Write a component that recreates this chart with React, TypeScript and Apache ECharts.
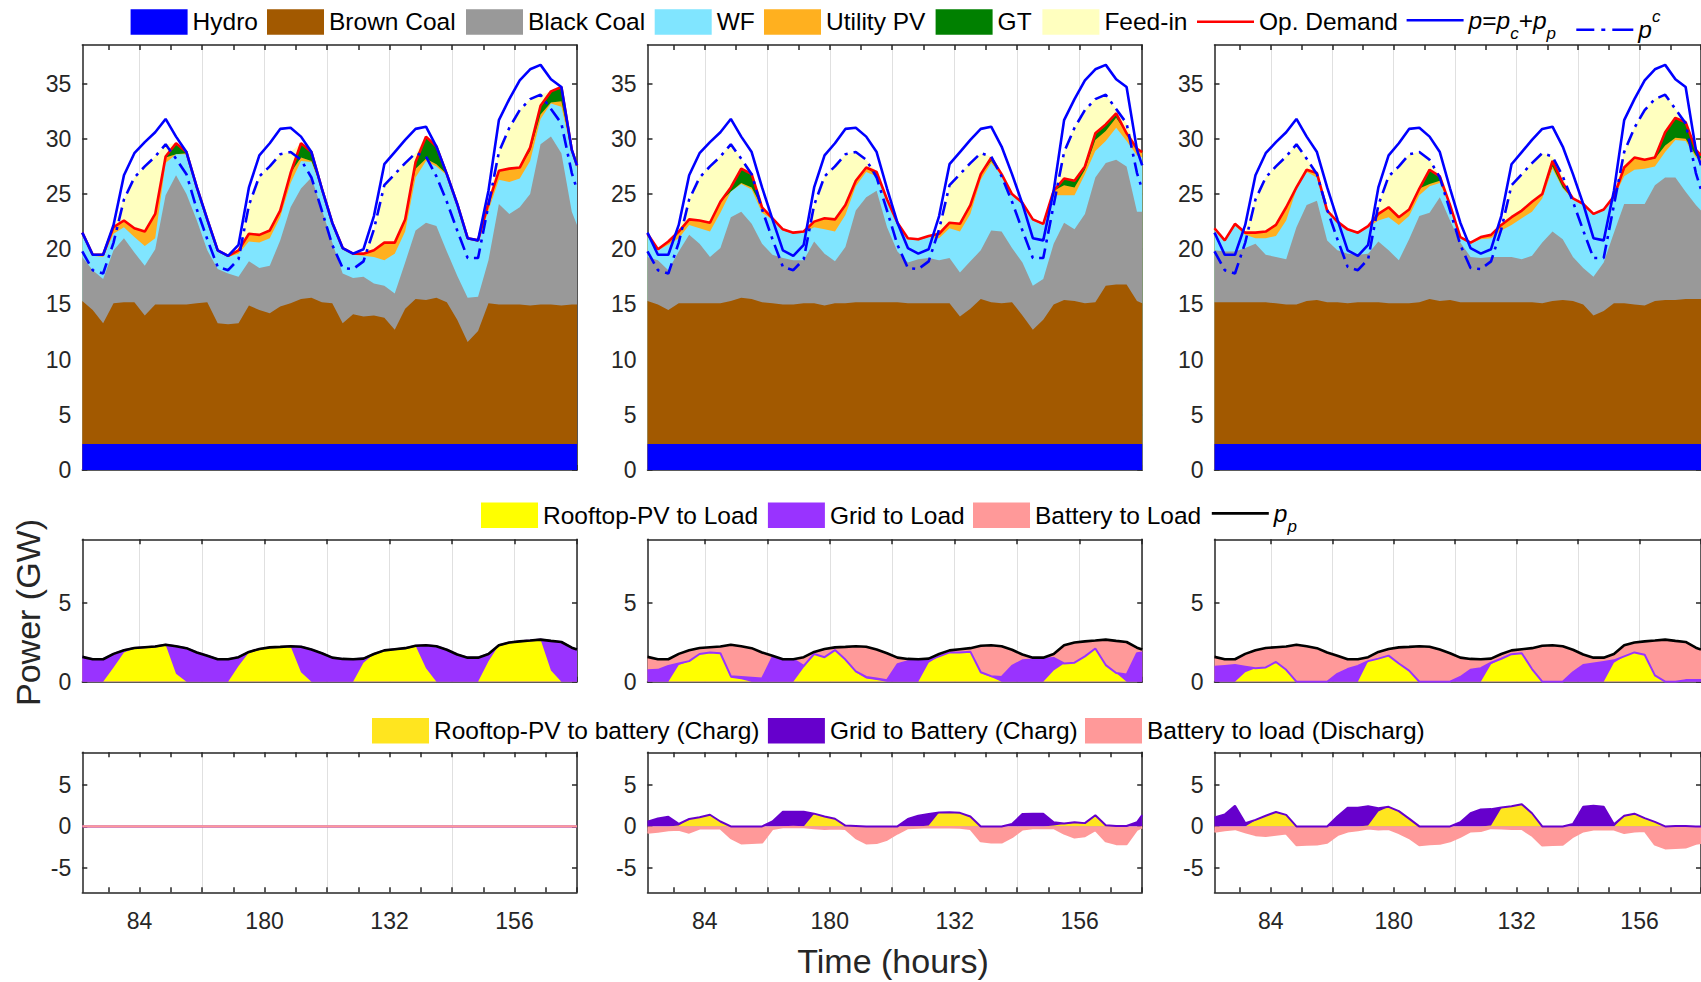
import React, { useEffect, useRef } from "react";
import * as echarts from "echarts";

// ---------------- data ----------------
const HOURS = [
  73, 75, 77, 79, 81, 83, 85, 87, 89, 91,
  93, 95, 97, 99, 101, 103, 105, 107, 109, 111,
  113, 115, 117, 119, 121, 123, 125, 127, 129, 131,
  133, 135, 137, 139, 141, 143, 145, 147, 149, 151,
  153, 155, 157, 159, 161, 163, 165, 167, 168,
];
const HOUR_CATEGORIES = Array.from({ length: 96 }, (_, i) => String(73 + i));
const X_LABEL_HOURS = ["84", "108", "132", "156"];
const X_LABEL_TEXT: Record<string, string> = { "84": "84", "108": "180", "132": "132", "156": "156" };

const HYDRO = [
  2.35, 2.35, 2.35, 2.35, 2.35, 2.35, 2.35, 2.35, 2.35, 2.35,
  2.35, 2.35, 2.35, 2.35, 2.35, 2.35, 2.35, 2.35, 2.35, 2.35,
  2.35, 2.35, 2.35, 2.35, 2.35, 2.35, 2.35, 2.35, 2.35, 2.35,
  2.35, 2.35, 2.35, 2.35, 2.35, 2.35, 2.35, 2.35, 2.35, 2.35,
  2.35, 2.35, 2.35, 2.35, 2.35, 2.35, 2.35, 2.35, 2.35,
];

// total demand p = pc + pp (solid blue) and consumer demand pc (dash-dot)
const P_TOTAL = [
  21.5, 19.5, 19.5, 22.2, 26.7, 28.7, 29.7, 30.6, 31.8, 30.2,
  28.8, 25.6, 22.7, 19.9, 19.4, 20.4, 25.6, 28.5, 29.6, 30.9,
  31.0, 30.2, 28.8, 25.5, 22.4, 20.1, 19.6, 20.0, 23.0, 27.7,
  28.8, 29.9, 30.9, 31.1, 29.3, 26.8, 24.1, 21.0, 20.8, 25.3,
  31.7, 33.6, 35.3, 36.3, 36.7, 35.4, 34.7, 29.0, 27.6,
];
const P_CONS = [
  19.8, 18.1, 17.8, 20.6, 24.5, 26.5, 27.5, 28.4, 29.5, 28.2,
  26.8, 23.6, 20.9, 18.4, 18.1, 19.1, 24.0, 26.6, 27.5, 28.6,
  28.8, 28.1, 26.5, 23.5, 20.4, 18.3, 18.2, 18.9, 21.8, 25.8,
  26.8, 27.8, 28.7, 28.4, 26.6, 24.3, 21.7, 19.2, 19.2, 24.0,
  28.8, 31.0, 32.6, 33.6, 34.0, 32.7, 31.4, 26.9, 25.4,
];
const P_PROS = [
  1.57, 1.42, 1.42, 1.76, 1.99, 2.13, 2.18, 2.22, 2.34, 2.24,
  2.12, 1.85, 1.64, 1.42, 1.42, 1.55, 1.88, 2.07, 2.17, 2.20,
  2.24, 2.21, 2.03, 1.80, 1.52, 1.44, 1.42, 1.46, 1.75, 1.98,
  2.05, 2.12, 2.27, 2.30, 2.24, 2.02, 1.72, 1.52, 1.52, 1.75,
  2.30, 2.48, 2.55, 2.60, 2.66, 2.58, 2.51, 2.15, 2.03,
];

// ---- panel 1 (no battery): cumulative tops of the generation stack ----
const BROWN_TOP_1 = [
  15.3, 14.5, 13.3, 15.1, 15.2, 15.2, 14.0, 15.0, 15.0, 15.0,
  15.0, 15.1, 15.2, 13.3, 13.2, 13.3, 14.9, 14.5, 14.2, 14.8,
  15.1, 15.5, 15.6, 15.2, 15.1, 13.3, 14.1, 13.9, 14.0, 13.8,
  12.7, 14.6, 15.5, 15.4, 15.6, 15.2, 13.6, 11.6, 12.6, 15.1,
  15.0, 15.0, 15.0, 14.9, 15.0, 15.0, 14.9, 15.0, 15.0,
];
const BLACK_TOP_1 = [
  19.3, 18.1, 17.3, 19.9, 21.0, 19.7, 18.5, 20.0, 24.9, 26.7,
  25.0, 22.6, 19.9, 18.2, 17.8, 17.5, 18.9, 18.3, 18.5, 20.8,
  23.8, 25.5, 26.5, 23.6, 20.6, 17.8, 17.4, 17.5, 16.9, 16.7,
  16.0, 18.8, 21.7, 22.4, 22.1, 19.8, 17.6, 15.6, 15.7, 19.0,
  24.1, 23.2, 23.8, 25.0, 29.5, 30.2, 28.7, 23.4, 22.2,
];
const WF_TOP_1 = [
  21.3, 19.4, 19.3, 21.4, 22.0, 21.1, 20.3, 21.0, 27.8, 28.6,
  28.6, 25.5, 22.6, 19.8, 19.3, 19.6, 20.7, 20.6, 21.0, 22.9,
  26.0, 28.0, 27.9, 25.4, 22.3, 20.0, 19.5, 19.4, 19.3, 19.0,
  19.6, 21.6, 26.5, 28.0, 27.5, 26.7, 24.0, 20.9, 20.7, 23.5,
  26.3, 26.1, 26.4, 28.0, 31.8, 33.2, 32.9, 28.8, 27.4,
];
const GT_1 = [
  0, 0, 0, 0, 0, 0, 0, 0, 0.1, 1.0,
  0.1, 0, 0, 0, 0, 0, 0, 0, 0, 0,
  0, 1.3, 0.8, 0, 0, 0, 0, 0, 0, 0,
  0, 0, 0.6, 2.0, 1.6, 0, 0, 0, 0, 0,
  0, 0, 0, 0.3, 0.8, 1.0, 1.3, 0, 0,
];
const DEMAND_1 = [
  21.5, 19.5, 19.5, 22.0, 22.6, 21.9, 21.6, 23.2, 28.4, 29.6,
  28.8, 25.6, 22.7, 19.9, 19.4, 19.9, 21.4, 21.3, 21.7, 23.5,
  26.9, 29.6, 28.8, 25.5, 22.4, 20.1, 19.6, 19.6, 19.9, 20.6,
  20.6, 22.7, 27.9, 30.2, 29.3, 26.8, 24.1, 21.0, 20.8, 24.2,
  27.1, 27.3, 27.4, 29.2, 33.0, 34.3, 34.7, 29.0, 27.6,
];

// ---- panel 2 ----
const BROWN_TOP_2 = [
  15.3, 15.0, 14.5, 15.1, 15.1, 15.1, 15.1, 15.1, 15.3, 15.6,
  15.5, 15.2, 15.1, 15.0, 15.0, 15.1, 15.1, 14.9, 15.1, 15.1,
  15.2, 15.2, 15.2, 15.2, 15.2, 15.1, 15.1, 15.1, 15.1, 15.1,
  13.9, 14.6, 15.5, 15.2, 15.1, 15.2, 14.0, 12.7, 13.6, 15.0,
  15.4, 15.3, 15.1, 15.2, 16.7, 16.8, 16.8, 15.3, 15.1,
];
const BLACK_TOP_2 = [
  19.3, 19.0, 18.1, 19.8, 21.3, 20.5, 19.3, 20.1, 22.9, 23.4,
  22.3, 20.5, 19.5, 19.2, 19.0, 19.0, 20.7, 19.6, 18.9, 20.2,
  23.5, 24.7, 25.3, 22.0, 19.8, 18.8, 19.1, 19.2, 19.0, 19.2,
  17.9, 18.9, 19.9, 21.7, 21.6, 20.1, 18.8, 16.7, 17.3, 20.5,
  22.4, 21.8, 23.2, 26.5, 27.8, 28.1, 27.5, 23.4, 23.4,
];
const WF_TOP_2 = [
  21.2, 19.9, 20.4, 21.0, 22.2, 21.9, 21.6, 23.3, 25.2, 25.9,
  25.4, 23.3, 22.7, 21.7, 21.4, 21.5, 22.0, 21.8, 21.6, 23.1,
  25.7, 27.0, 26.6, 24.4, 22.3, 20.9, 20.8, 21.1, 21.0, 21.9,
  21.6, 23.2, 26.3, 27.8, 26.7, 24.9, 24.1, 22.6, 22.2, 24.9,
  24.9, 24.9, 26.8, 28.9, 29.8, 31.0, 29.8, 28.5, 28.3,
];
const GT_2 = [
  0, 0, 0, 0, 0, 0, 0, 0, 0.4, 1.3,
  1.2, 0, 0, 0, 0, 0, 0, 0, 0, 0,
  0, 0, 0.3, 0, 0, 0, 0, 0, 0, 0,
  0, 0, 0, 0.3, 0, 0, 0, 0, 0, 0,
  0.6, 0.6, 0.3, 0.6, 0.6, 0.4, 0, 0, 0,
];
const DEMAND_2 = [
  21.4, 20.0, 20.7, 21.6, 22.7, 22.6, 22.4, 24.3, 25.6, 27.3,
  26.8, 23.8, 22.8, 21.8, 21.5, 21.6, 22.5, 22.8, 22.7, 24.0,
  26.2, 27.4, 27.0, 24.5, 22.4, 21.0, 20.9, 21.2, 21.4, 22.4,
  22.3, 24.0, 26.8, 28.3, 26.8, 25.0, 24.2, 22.7, 22.3, 25.3,
  26.4, 26.2, 27.5, 30.5, 31.3, 32.3, 30.5, 29.1, 28.8,
];

// ---- panel 3 ----
const BROWN_TOP_3 = [
  15.2, 15.2, 15.2, 15.2, 15.2, 15.2, 15.1, 15.0, 15.0, 15.3,
  15.4, 15.2, 15.2, 15.1, 15.2, 15.2, 15.2, 15.1, 15.1, 15.1,
  15.2, 15.5, 15.3, 15.4, 15.2, 15.2, 15.2, 15.2, 15.2, 15.2,
  15.2, 15.2, 15.1, 15.3, 15.4, 15.3, 15.0, 14.0, 14.4, 15.1,
  15.1, 15.0, 14.9, 15.3, 15.4, 15.4, 15.5, 15.5, 15.5,
];
const BLACK_TOP_3 = [
  19.9, 19.8, 19.8, 20.1, 20.5, 19.5, 19.3, 19.1, 22.0, 24.0,
  24.4, 20.8, 19.9, 19.6, 19.5, 19.6, 20.7, 19.9, 19.0, 20.9,
  23.0, 23.3, 24.7, 22.6, 20.6, 19.3, 19.2, 19.3, 19.3, 19.3,
  19.1, 19.4, 20.6, 21.6, 20.9, 19.3, 18.3, 17.5, 18.8, 21.5,
  24.1, 24.1, 24.1, 25.8, 26.5, 26.5, 25.2, 24.0, 23.5,
];
const WF_TOP_3 = [
  21.8, 20.7, 22.1, 21.3, 21.0, 21.0, 21.2, 22.6, 25.4, 27.0,
  26.5, 23.4, 22.4, 21.7, 21.4, 22.0, 22.6, 22.9, 22.2, 23.0,
  24.9, 25.7, 26.0, 23.9, 21.0, 20.5, 20.9, 21.0, 21.7, 22.2,
  22.8, 23.4, 24.6, 27.3, 25.5, 24.5, 24.0, 23.1, 23.5, 24.7,
  26.6, 27.2, 27.3, 27.5, 28.8, 29.9, 29.8, 28.3, 28.0,
];
const GT_3 = [
  0, 0, 0, 0, 0, 0, 0, 0, 0, 0,
  0, 0, 0, 0, 0, 0, 0, 0, 0, 0,
  0, 1.3, 0.4, 0, 0, 0, 0, 0, 0, 0,
  0, 0, 0, 0.5, 0.4, 0, 0, 0, 0, 0,
  0, 0, 0, 0.1, 1.2, 1.8, 1.5, 0.5, 0.3,
];
const DEMAND_3 = [
  21.9, 20.8, 22.3, 21.5, 21.5, 21.6, 22.2, 23.8, 25.6, 27.2,
  26.9, 23.5, 22.5, 21.8, 21.5, 22.1, 23.2, 23.8, 22.9, 23.6,
  25.5, 27.2, 26.6, 24.0, 21.1, 20.6, 21.1, 21.3, 22.2, 22.9,
  23.5, 24.3, 25.0, 28.0, 26.0, 24.6, 24.1, 23.2, 23.6, 24.8,
  27.4, 28.3, 28.1, 28.3, 30.6, 31.9, 31.5, 29.0, 28.5,
];

// ---- prosumer load supply (middle row) ----
const PV_TO_LOAD_1 = [
  0, 0, 0, 0.9, 1.85, 2.10, 2.18, 2.22, 2.34, 0.5,
  0, 0, 0, 0, 0, 1.0, 1.85, 2.05, 2.15, 2.2,
  2.24, 0.6, 0, 0, 0, 0, 0, 1.2, 1.75, 1.98,
  2.05, 2.12, 2.27, 0.85, 0, 0, 0, 0, 0, 1.3,
  2.30, 2.48, 2.55, 2.60, 2.66, 0.7, 0, 0, 0,
];
const PV_TO_LOAD_2 = [
  0, 0, 0, 1.05, 1.3, 1.75, 1.85, 1.8, 0.25, 0.15,
  0, 0, 0, 0, 0, 0.9, 1.75, 1.55, 2.0, 1.4,
  0.6, 0.2, 0.1, 0, 0, 0, 0, 1.2, 1.6, 1.85,
  1.85, 1.9, 0.55, 0.3, 0, 0, 0, 0, 0, 0.7,
  1.15, 1.2, 1.6, 2.1, 1.05, 0.55, 0, 0, 0,
];
const PV_TO_LOAD_3 = [
  0, 0, 0, 0.6, 0.85, 0.9, 1.25, 0.75, 0, 0,
  0, 0, 0, 0, 0, 1.3, 1.46, 1.65, 1.15, 0.7,
  0, 0, 0, 0, 0, 0, 0, 1.1, 1.45, 1.74,
  1.8, 0.8, 0, 0, 0, 0, 0, 0, 0, 1.2,
  1.6, 1.85, 1.7, 0.4, 0, 0, 0, 0, 0,
];
// top of the "Grid to Load" layer (rooftop PV + grid)
const GRID_LOAD_TOP_2 = [
  0.73, 0.75, 1.0, 1.15, 1.3, 1.75, 1.85, 1.8, 0.35, 0.3,
  0.25, 0.2, 1.55, 1.42, 1.42, 1.0, 1.75, 1.55, 2.0, 1.4,
  0.65, 0.3, 0.2, 0.1, 1.1, 1.3, 1.35, 1.4, 1.6, 1.85,
  1.85, 1.9, 0.6, 0.35, 0.3, 1.0, 1.35, 1.4, 1.45, 1.5,
  1.15, 1.2, 1.6, 2.1, 1.05, 0.55, 0.45, 1.8, 1.85,
];
const GRID_LOAD_TOP_3 = [
  0.95, 1.0, 1.05, 0.95, 0.85, 0.9, 1.25, 0.75, 0, 0,
  0, 0, 0.5, 0.8, 1.0, 1.3, 1.46, 1.65, 1.15, 0.7,
  0, 0, 0, 0, 0.3, 0.75, 0.85, 1.2, 1.45, 1.74,
  1.8, 0.8, 0, 0, 0, 0.6, 1.05, 1.15, 1.25, 1.35,
  1.6, 1.85, 1.7, 0.4, 0, 0, 0.1, 0.1, 0.1,
];

// ---- battery (bottom row) ----
const NO_BATTERY = [
  0, 0, 0, 0, 0, 0, 0, 0, 0, 0,
  0, 0, 0, 0, 0, 0, 0, 0, 0, 0,
  0, 0, 0, 0, 0, 0, 0, 0, 0, 0,
  0, 0, 0, 0, 0, 0, 0, 0, 0, 0,
  0, 0, 0, 0, 0, 0, 0, 0, 0,
];
const PV_TO_BATT_2 = [
  0, 0, 0, 0.1, 0.9, 1.12, 1.42, 0.6, 0, 0,
  0, 0, 0, 0, 0, 0, 1.55, 1.2, 0.93, 0.1,
  0, 0, 0, 0, 0, 0, 0, 0.1, 1.69, 1.73,
  1.65, 1.2, 0, 0, 0, 0, 0, 0, 0, 0.1,
  0.3, 0.4, 0.35, 1.3, 0.1, 0, 0, 0, 0,
];
const CHARGE_TOTAL_2 = [
  0.56, 0.97, 1.17, 0.3, 0.9, 1.12, 1.42, 0.6, 0, 0,
  0, 0, 0.6, 1.77, 1.77, 1.77, 1.55, 1.2, 0.93, 0.1,
  0.05, 0, 0, 0, 0, 0.9, 1.3, 1.5, 1.69, 1.73,
  1.65, 1.2, 0, 0, 0, 0.3, 1.5, 1.53, 1.53, 0.5,
  0.36, 0.5, 0.4, 1.35, 0.15, 0.05, 0.05, 0.5, 1.37,
];
const DISCHARGE_2 = [
  -0.77, -0.65, -0.45, -0.4, -0.75, -0.25, -0.24, -0.24, -1.4, -2.05,
  -2.0, -1.95, -0.3, -0.1, -0.05, -0.1, -0.2, -0.3, -0.25, -0.3,
  -1.4, -2.06, -2.0, -1.6, -0.85, -0.2, -0.15, -0.1, -0.12, -0.12,
  -0.15, -0.3, -1.8, -1.95, -1.95, -1.3, -0.35, -0.2, -0.2, -0.2,
  -0.85, -1.35, -1.17, -0.44, -1.8, -2.14, -2.14, -0.4, -0.1,
];
const PV_TO_BATT_3 = [
  0, 0, 0, 0, 0.75, 1.3, 1.75, 1.4, 0, 0,
  0, 0, 0, 0, 0, 0.1, 1.8, 2.38, 1.85, 0.95,
  0, 0, 0, 0, 0, 0, 0, 0.1, 2.2, 2.45,
  2.7, 1.6, 0, 0, 0, 0, 0, 0, 0, 0,
  1.2, 1.55, 1.0, 0.55, 0, 0, 0, 0, 0,
];
const CHARGE_TOTAL_3 = [
  1.09, 1.45, 2.5, 0.4, 0.8, 1.3, 1.75, 1.4, 0, 0,
  0, 0, 1.2, 2.26, 2.28, 2.46, 2.2, 2.38, 1.85, 0.95,
  0, 0, 0, 0, 0.5, 1.6, 2.06, 2.1, 2.3, 2.45,
  2.7, 1.6, 0, 0, 0, 0.3, 2.4, 2.5, 2.4, 0.25,
  1.3, 1.55, 1.0, 0.55, 0, 0.05, 0.05, 0, 0,
];
const DISCHARGE_3 = [
  -0.65, -0.44, -0.32, -0.7, -1.05, -1.15, -1.0, -0.85, -2.26, -2.22,
  -2.18, -1.98, -1.05, -0.6, -0.45, -0.25, -0.35, -0.3, -0.8, -1.4,
  -2.26, -2.15, -2.1, -1.8, -1.25, -0.6, -0.55, -0.2, -0.25, -0.3,
  -0.3, -1.1, -2.3, -2.25, -2.22, -1.25, -0.6, -0.36, -0.36, -0.36,
  -0.8, -0.6, -0.55, -2.2, -2.66, -2.6, -2.55, -2.1, -2.0,
];

// ---------------- styling ----------------
const FONT = '"Liberation Sans", Arial, Helvetica, sans-serif';
const AX = "#262626";
const GRIDC = "#e0e0e0";

const C = {
  hydro: "#0000ff",
  brown: "#a25900",
  black: "#999999",
  wf: "#80e5ff",
  upv: "#ffb01f",
  gt: "#008000",
  feed: "#ffffbf",
  demand: "#ff0000",
  p: "#0000ff",
  pvLoad: "#ffff00",
  gridLoad: "#9933ff",
  battLoad: "#ff9999",
  pvBatt: "#ffe51f",
  gridBatt: "#6600cc",
  discharge: "#ff9999",
};

const COL_LEFT = [82.3, 647.5, 1214.5];
const COL_W = 494.7;
const ROWS = [
  { top: 45, height: 425, min: 0, max: 38.5, tickStep: 6, gridStep: 12, labels: false, yTicks: [0, 5, 10, 15, 20, 25, 30, 35] },
  { top: 539.3, height: 142.4, min: 0, max: 9, tickStep: 12, gridStep: 12, labels: false, yTicks: [0, 5] },
  { top: 752.3, height: 140, min: -8, max: 9, tickStep: 6, gridStep: 24, labels: true, yTicks: [-5, 0, 5] },
];

const pairs = (vals: number[]) => HOURS.map((h, i) => [h, vals[i]]);

function catAxis(g: number, position: string, row: any, main: boolean) {
  return {
    type: "category",
    gridIndex: g,
    position,
    data: HOUR_CATEGORIES,
    boundaryGap: false,
    axisLine: { show: true, onZero: false, lineStyle: { color: AX, width: 1.5 } },
    axisTick: {
      show: true,
      inside: true,
      length: 5,
      interval: (i: number) => (73 + i) % row.tickStep === 0,
      lineStyle: { color: AX, width: 1.5 },
    },
    axisLabel: {
      show: main && row.labels,
      interval: (_i: number, v: string) => X_LABEL_HOURS.includes(v),
      formatter: (v: string) => X_LABEL_TEXT[v] ?? v,
      fontSize: 23,
      color: AX,
      fontFamily: FONT,
      margin: 17,
    },
    splitLine: {
      show: main,
      interval: (i: number) => (73 + i) % row.gridStep === 0,
      lineStyle: { color: GRIDC, width: 1 },
    },
  };
}

function valAxis(g: number, position: string, row: any, main: boolean) {
  return {
    type: "value",
    gridIndex: g,
    position,
    min: row.min,
    max: row.max,
    axisLine: { show: true, onZero: false, lineStyle: { color: AX, width: 1.5 } },
    axisTick: { show: true, inside: true, length: 5, customValues: row.yTicks, lineStyle: { color: AX, width: 1.5 } },
    axisLabel: {
      show: main,
      customValues: row.yTicks,
      formatter: (v: number) => (v % 5 === 0 ? String(v) : ""),
      fontSize: 23,
      color: AX,
      fontFamily: FONT,
      margin: 11,
    },
    splitLine: { show: false },
  };
}

// filled area from 0 to the given (cumulative) boundary
function area(name: string, color: string, g: number, vals: number[], line?: any) {
  return {
    type: "line",
    name,
    xAxisIndex: 3 * g,
    yAxisIndex: 2 * g,
    data: pairs(vals),
    symbol: "none",
    showSymbol: false,
    color,
    itemStyle: { color },
    lineStyle: line ?? { width: 0, color },
    areaStyle: { color, opacity: 1 },
    silent: true,
    emphasis: { disabled: true },
  };
}

function lineSeries(name: string, color: string, g: number, vals: number[], width: number, type?: any) {
  return {
    type: "line",
    name,
    xAxisIndex: 3 * g,
    yAxisIndex: 2 * g,
    data: pairs(vals),
    symbol: "none",
    showSymbol: false,
    color,
    itemStyle: { color },
    lineStyle: { color, width, type: type ?? "solid" },
    silent: true,
    emphasis: { disabled: true },
  };
}

const RICH = {
  i: { fontStyle: "italic", fontSize: 24.5, fontFamily: FONT, lineHeight: 44, verticalAlign: "middle", color: "#000" },
  n: { fontSize: 24.5, fontFamily: FONT, lineHeight: 44, verticalAlign: "middle", color: "#000" },
  sb: { fontStyle: "italic", fontSize: 17, fontFamily: FONT, lineHeight: 18, verticalAlign: "bottom", color: "#000" },
  sp: { fontStyle: "italic", fontSize: 17, fontFamily: FONT, lineHeight: 32, verticalAlign: "top", color: "#000" },
};
const RICH_LABEL: Record<string, string> = {
  p: "{i|p}{n|=}{i|p}{sb|c}{n|+}{i|p}{sb|p}",
  pc: "{i|p}{sp|c}",
  pp: "{i|p}{sb|p}",
};
const SOLID_ICON = "path://M0,0h57v2.6h-57z";
const DASHDOT_ICON = "path://M0,0h18v2.6h-18zM25,0h4v2.6h-4zM36,0h21v2.6h-21z";

function legendItem(name: string, left: number, top: number, icon: string) {
  const rich = RICH_LABEL[name];
  return {
    show: true,
    left,
    top: rich ? top - 1.5 : top,
    padding: 0,
    itemGap: 0,
    itemWidth: 57,
    itemHeight: 25.5,
    selectedMode: false,
    data: [{ name, icon }],
    itemStyle: { borderWidth: 0 },
    textStyle: { fontSize: 24.5, fontFamily: FONT, color: "#000", rich: RICH },
    formatter: (n: string) => RICH_LABEL[n] ?? n,
  };
}

const maxOf = (a: number[], b: number[]) => a.map((v, i) => Math.max(v, b[i]));

function buildOption() {
  const grid: any[] = [];
  const xAxis: any[] = [];
  const yAxis: any[] = [];
  ROWS.forEach((row, r) => {
    COL_LEFT.forEach((left, c) => {
      const g = r * 3 + c;
      grid.push({ left, top: row.top, width: COL_W, height: row.height, containLabel: false });
      xAxis.push({ type: "value", gridIndex: g, min: 73, max: 168, show: false });
      xAxis.push(catAxis(g, "bottom", row, true));
      xAxis.push(catAxis(g, "top", row, false));
      yAxis.push(valAxis(g, "left", row, true));
      yAxis.push(valAxis(g, "right", row, false));
    });
  });

  const series: any[] = [];

  // ---- top row: generation mix (layer boundaries, drawn from the top layer down) ----
  const tops = [
    [BROWN_TOP_1, BLACK_TOP_1, WF_TOP_1, GT_1, DEMAND_1],
    [BROWN_TOP_2, BLACK_TOP_2, WF_TOP_2, GT_2, DEMAND_2],
    [BROWN_TOP_3, BLACK_TOP_3, WF_TOP_3, GT_3, DEMAND_3],
  ];
  tops.forEach(([brown, black, wf, gt, demand], k) => {
    const g = k;
    const blackT = maxOf(black, brown);
    const wfT = maxOf(wf, blackT);
    const pvT = maxOf(wfT, demand.map((d, i) => d - gt[i]));
    const gtT = maxOf(pvT, demand);
    const feedT = maxOf(gtT, P_CONS);
    series.push(area("Feed-in", C.feed, g, feedT));
    series.push(area("GT", C.gt, g, gtT));
    series.push(area("Utility PV", C.upv, g, pvT));
    series.push(area("WF", C.wf, g, wfT));
    series.push(area("Black Coal", C.black, g, blackT));
    series.push(area("Brown Coal", C.brown, g, brown));
    series.push(area("Hydro", C.hydro, g, HYDRO));
    series.push(lineSeries("Op. Demand", C.demand, g, demand, 2.6));
    series.push(lineSeries("p", C.p, g, P_TOTAL, 2.6));
    series.push(lineSeries("pc", C.p, g, P_CONS, 2.6, [14, 6, 3, 6]));
  });

  // ---- middle row: how prosumer load is supplied ----
  const middle = [
    [PV_TO_LOAD_1, P_PROS],
    [PV_TO_LOAD_2, GRID_LOAD_TOP_2],
    [PV_TO_LOAD_3, GRID_LOAD_TOP_3],
  ];
  middle.forEach(([pv, gridTop], k) => {
    const g = 3 + k;
    const gridT = maxOf(gridTop, pv);
    series.push(area("Battery to Load", C.battLoad, g, P_PROS));
    series.push(area("Grid to Load", C.gridLoad, g, gridT, { width: 2, color: C.gridLoad }));
    series.push(area("Rooftop-PV to Load", C.pvLoad, g, pv));
    series.push(lineSeries("pp", "#000000", g, P_PROS, 2.6));
  });

  // ---- bottom row: battery charging / discharging ----
  const bottom = [
    [NO_BATTERY, NO_BATTERY, NO_BATTERY],
    [PV_TO_BATT_2, CHARGE_TOTAL_2, DISCHARGE_2],
    [PV_TO_BATT_3, CHARGE_TOTAL_3, DISCHARGE_3],
  ];
  bottom.forEach(([pv, total, dis], k) => {
    const g = 6 + k;
    const totT = maxOf(total, pv);
    series.push(area("Grid to Battery (Charg)", C.gridBatt, g, totT, { width: 2, color: C.gridBatt }));
    series.push(area("Rooftop-PV to battery (Charg)", C.pvBatt, g, pv));
    series.push(area("Battery to load (Discharg)", C.discharge, g, dis, { width: 2.2, color: C.discharge }));
  });

  const legend = [
    legendItem("Hydro", 130.6, 9.2, "rect"),
    legendItem("Brown Coal", 267, 9.2, "rect"),
    legendItem("Black Coal", 466, 9.2, "rect"),
    legendItem("WF", 654.7, 9.2, "rect"),
    legendItem("Utility PV", 764, 9.2, "rect"),
    legendItem("GT", 935.6, 9.2, "rect"),
    legendItem("Feed-in", 1042.4, 9.2, "rect"),
    legendItem("Op. Demand", 1197, 9.2, SOLID_ICON),
    legendItem("p", 1406.6, 9.2, SOLID_ICON),
    legendItem("pc", 1576.3, 9.2, DASHDOT_ICON),
    legendItem("Rooftop-PV to Load", 481, 502.4, "rect"),
    legendItem("Grid to Load", 767.9, 502.4, "rect"),
    legendItem("Battery to Load", 973, 502.4, "rect"),
    legendItem("pp", 1211.8, 502.4, SOLID_ICON),
    legendItem("Rooftop-PV to battery (Charg)", 372, 718, "rect"),
    legendItem("Grid to Battery (Charg)", 767.9, 718, "rect"),
    legendItem("Battery to load (Discharg)", 1085, 718, "rect"),
  ];

  const graphic = [
    {
      type: "text",
      x: 28,
      y: 612.5,
      rotation: Math.PI / 2,
      silent: true,
      style: {
        text: "Power (GW)",
        x: 0,
        y: 0,
        fontSize: 34,
        fontFamily: FONT,
        fill: AX,
        align: "center",
        verticalAlign: "middle",
        textAlign: "center",
        textVerticalAlign: "middle",
      },
    },
    {
      type: "text",
      x: 893,
      y: 961,
      silent: true,
      style: {
        text: "Time (hours)",
        x: 0,
        y: 0,
        fontSize: 34,
        fontFamily: FONT,
        fill: AX,
        align: "center",
        verticalAlign: "middle",
        textAlign: "center",
        textVerticalAlign: "middle",
      },
    },
  ];

  return {
    animation: false,
    backgroundColor: "#ffffff",
    textStyle: { fontFamily: FONT },
    grid,
    xAxis,
    yAxis,
    series,
    legend,
    graphic,
  };
}

export default function App() {
  const ref = useRef<HTMLDivElement>(null);
  useEffect(() => {
    if (!ref.current) return;
    const chart = echarts.init(ref.current, undefined, { renderer: "svg", width: 1701, height: 982 });
    chart.setOption(buildOption() as any);
    return () => chart.dispose();
  }, []);
  return (
    <div
      ref={ref}
      style={{ position: "absolute", left: 0, top: 0, width: 1701, height: 982, background: "#fff" }}
    />
  );
}
